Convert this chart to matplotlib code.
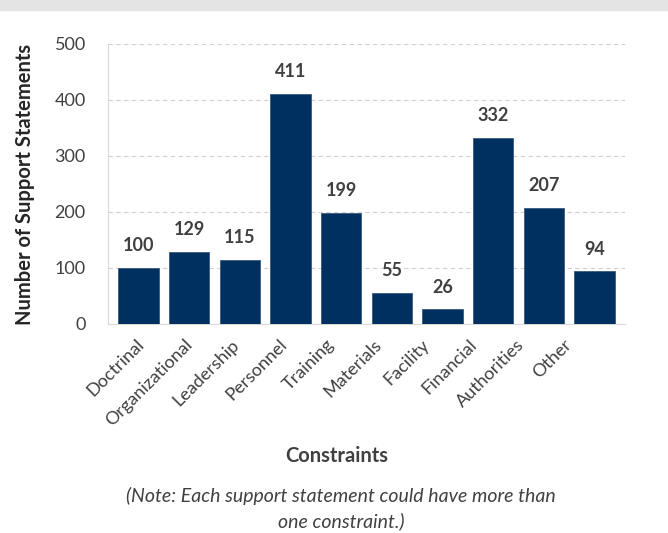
import matplotlib.pyplot as plt
import matplotlib.transforms as mtransforms
from matplotlib.patches import Rectangle

categories = ["Doctrinal", "Organizational", "Leadership", "Personnel", "Training",
              "Materials", "Facility", "Financial", "Authorities", "Other"]
counts = [100, 129, 115, 411, 199, 55, 26, 332, 207, 94]
yticks = [0, 100, 200, 300, 400, 500]

plt.rcParams["font.family"] = ["Lato", "DejaVu Sans"]

fig = plt.figure(figsize=(6.68, 5.33), dpi=100)
fig.patches.append(Rectangle((0, 1 - 10 / 533), 1, 10 / 533, transform=fig.transFigure,
                             color="#e4e4e4", zorder=0))
ax = fig.add_axes([108 / 668, 1 - 324 / 533, 517 / 668, 280 / 533])

x = range(len(categories))
bars = ax.bar(x, counts, width=0.8, color="#00305f", edgecolor="#3a5a82",
              linewidth=0.6, zorder=3)
for b, v in zip(bars, counts):
    ax.annotate(str(v), (b.get_x() + b.get_width() / 2, v), xytext=(0, 16),
                textcoords="offset points", ha="center", va="center",
                fontsize=13, fontweight="bold", color="#404040")

ax.set_xlim(-0.6, len(categories) - 0.4)
ax.set_ylim(0, 500)
ax.set_yticks(yticks)
ax.tick_params(axis="y", length=0, pad=16, labelsize=13, labelcolor="#404040")
ax.tick_params(axis="x", length=0, pad=9, labelsize=13, labelcolor="#404040")
ax.set_xticks(list(x))
ax.set_xticklabels(categories, rotation=45, ha="right", rotation_mode="anchor")
# labels drift slightly left the further right they are
for i, lbl in enumerate(ax.get_xticklabels()):
    lbl.set_transform(lbl.get_transform() + mtransforms.ScaledTranslation(
        (-2 - 3.3 * i) / 100, 0, fig.dpi_scale_trans))
ax.grid(axis="y", color="#d0d0d0", linestyle=(0, (4, 3)), linewidth=0.8, zorder=0)
for side in ["top", "right"]:
    ax.spines[side].set_visible(False)
for side in ["left", "bottom"]:
    ax.spines[side].set_color("#d9d9d9")
    ax.spines[side].set_linewidth(0.8)

ax.set_ylabel("Number of Support Statements", fontsize=14.5, fontweight="bold",
              color="#262626", labelpad=14)
fig.text(337 / 668, 1 - 456 / 533, "Constraints", ha="center", va="center",
         fontsize=14.5, fontweight="bold", color="#404040")
fig.text(341 / 668, 1 - 496 / 533, "(Note: Each support statement could have more than",
         ha="center", va="center", fontsize=14, style="italic", color="#404040")
fig.text(341 / 668, 1 - 521 / 533, "one constraint.)", ha="center", va="center",
         fontsize=14, style="italic", color="#404040")

fig.savefig("out.png", dpi=100)
